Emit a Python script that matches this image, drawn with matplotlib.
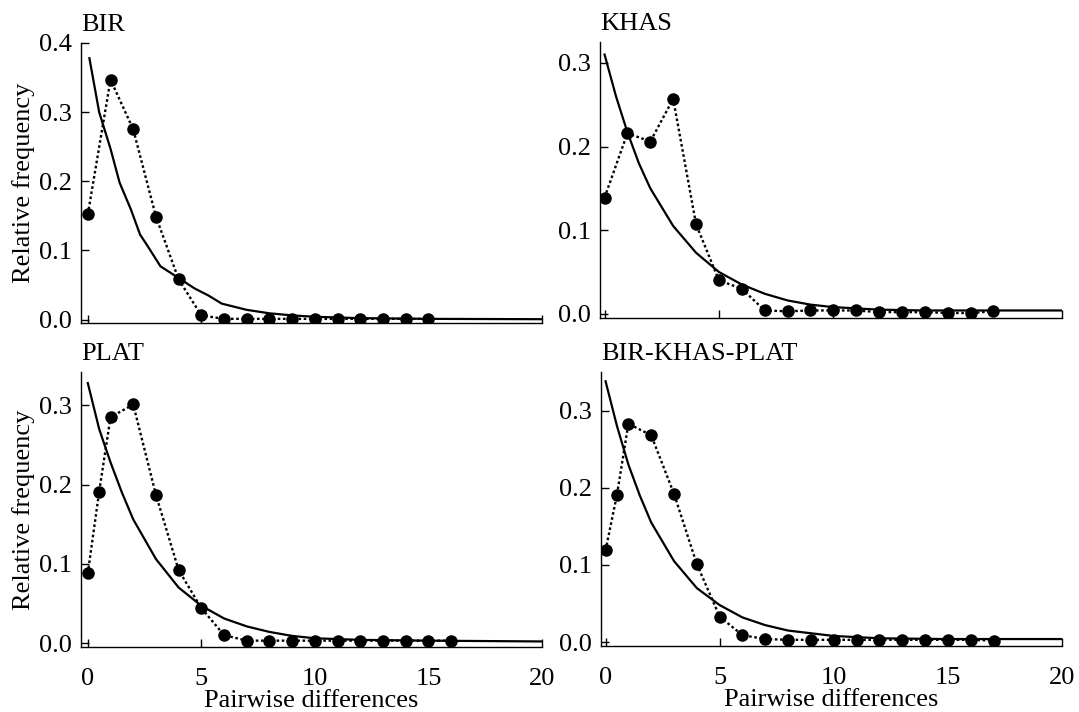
import matplotlib.pyplot as plt

plt.rcParams["font.family"] = ["Liberation Serif", "DejaVu Serif"]
plt.rcParams["font.size"] = 19

# ==========================
# Dados
# ==========================

nomes = ["BIR", "KHAS", "PLAT", "BIR-KHAS-PLAT"]

# observado (pontos + linha pontilhada)
bir_x = list(range(16))
bir_y = [0.152, 0.347, 0.275, 0.149, 0.058, 0.006, 0.001, 0.001,
         0.001, 0.001, 0.001, 0.001, 0.001, 0.001, 0.001, 0.001]

khas_x = list(range(18))
khas_y = [0.139, 0.216, 0.206, 0.257, 0.107, 0.040, 0.030, 0.004, 0.003,
          0.004, 0.004, 0.004, 0.002, 0.002, 0.002, 0.001, 0.001, 0.003]

plat_x = [0, 0.5, 1, 2, 3, 4, 5, 6, 7, 8, 9, 10, 11, 12, 13, 14, 15, 16]
plat_y = [0.088, 0.191, 0.285, 0.301, 0.187, 0.092, 0.044, 0.010, 0.003,
          0.003, 0.003, 0.003, 0.003, 0.003, 0.003, 0.003, 0.003, 0.003]

todas_x = [0, 0.5, 1, 2, 3, 4, 5, 6, 7, 8, 9, 10, 11, 12, 13, 14, 15, 16, 17]
todas_y = [0.119, 0.191, 0.283, 0.268, 0.192, 0.101, 0.033, 0.009, 0.004,
           0.003, 0.003, 0.003, 0.003, 0.003, 0.003, 0.003, 0.003, 0.003,
           0.002]

# esperado (curva continua)
bir_cx = [0.07, 0.5, 1, 1.4, 1.9, 2.3, 2.6, 3.2, 4, 4.7, 5.3, 5.9, 7, 8, 9,
          10, 12, 15, 20]
bir_cy = [0.378, 0.30, 0.247, 0.198, 0.159, 0.123, 0.108, 0.077, 0.06,
          0.045, 0.035, 0.023, 0.014, 0.009, 0.006, 0.004, 0.002, 0.001,
          0.0005]

khas_cx = [0, 0.5, 1, 1.5, 2, 3, 4, 5, 6, 7, 8, 9, 10, 12, 14, 17, 20]
khas_cy = [0.31, 0.26, 0.217, 0.18, 0.15, 0.105, 0.073, 0.05, 0.035, 0.024,
           0.016, 0.011, 0.008, 0.005, 0.004, 0.004, 0.004]

plat_cx = [0, 0.5, 1, 1.5, 2, 3, 4, 5, 6, 7, 8, 9, 10, 12, 15, 20]
plat_cy = [0.328, 0.27, 0.228, 0.19, 0.156, 0.106, 0.07, 0.047, 0.031,
           0.021, 0.014, 0.009, 0.006, 0.004, 0.003, 0.002]

todas_cx = [0, 0.5, 1, 1.5, 2, 3, 4, 5, 6, 7, 8, 10, 12, 15, 20]
todas_cy = [0.338, 0.28, 0.23, 0.19, 0.155, 0.105, 0.07, 0.048, 0.032,
            0.022, 0.015, 0.008, 0.005, 0.004, 0.004]

obs = [(bir_x, bir_y), (khas_x, khas_y), (plat_x, plat_y), (todas_x, todas_y)]
esp = [(bir_cx, bir_cy), (khas_cx, khas_cy), (plat_cx, plat_cy),
       (todas_cx, todas_cy)]

# ==========================
# Layout
# ==========================

W, H = 1079, 712
caixas = [(81, 542, 43, 323), (600, 1062, 42, 318),
          (81, 542, 372, 647), (601, 1062, 372, 646)]
xlims = [(-0.3, 20), (-0.2, 20), (-0.3, 20), (-0.2, 20)]
ylims = [(-0.005, 0.4), (-0.005, 0.325), (-0.005, 0.342), (-0.005, 0.35)]
yticks = [[0, 0.1, 0.2, 0.3, 0.4], [0, 0.1, 0.2, 0.3],
          [0, 0.1, 0.2, 0.3], [0, 0.1, 0.2, 0.3]]

fig = plt.figure(figsize=(W / 100, H / 100), dpi=100)

for i in range(4):
    l, r, t, b = caixas[i]
    ax = fig.add_axes([l / W, (H - b) / H, (r - l) / W, (b - t) / H])

    ax.plot(esp[i][0], esp[i][1], color="black", linewidth=1.6)
    ax.plot(obs[i][0], obs[i][1], color="black", linewidth=1.7,
            linestyle=(0, (1.1, 1.1)), marker="o", markersize=8)

    ax.set_xlim(xlims[i])
    ax.set_ylim(ylims[i])
    ax.set_xticks([0, 5, 10, 15, 20])
    ax.set_yticks(yticks[i])
    ax.set_yticklabels([f"{v:.1f}" for v in yticks[i]])

    for lado in ["top", "right"]:
        ax.spines[lado].set_visible(False)
    for lado in ["left", "bottom"]:
        ax.spines[lado].set_linewidth(1.0)

    ax.tick_params(direction="in", length=6, width=1.0)
    ax.tick_params(axis="y", pad=6.5)
    ax.tick_params(axis="x", pad=15)

    ax.annotate(nomes[i], xy=(0, 1), xycoords="axes fraction",
                xytext=(0, 12), textcoords="offset pixels",
                ha="left", va="baseline")

    if i % 2 == 0:
        ax.set_ylabel("Relative frequency", labelpad=3)
    if i < 2:
        ax.tick_params(axis="x", labelbottom=False)
    else:
        ax.set_xlabel("Pairwise differences", labelpad=0)

plt.savefig("out.png", dpi=100)
plt.close()
